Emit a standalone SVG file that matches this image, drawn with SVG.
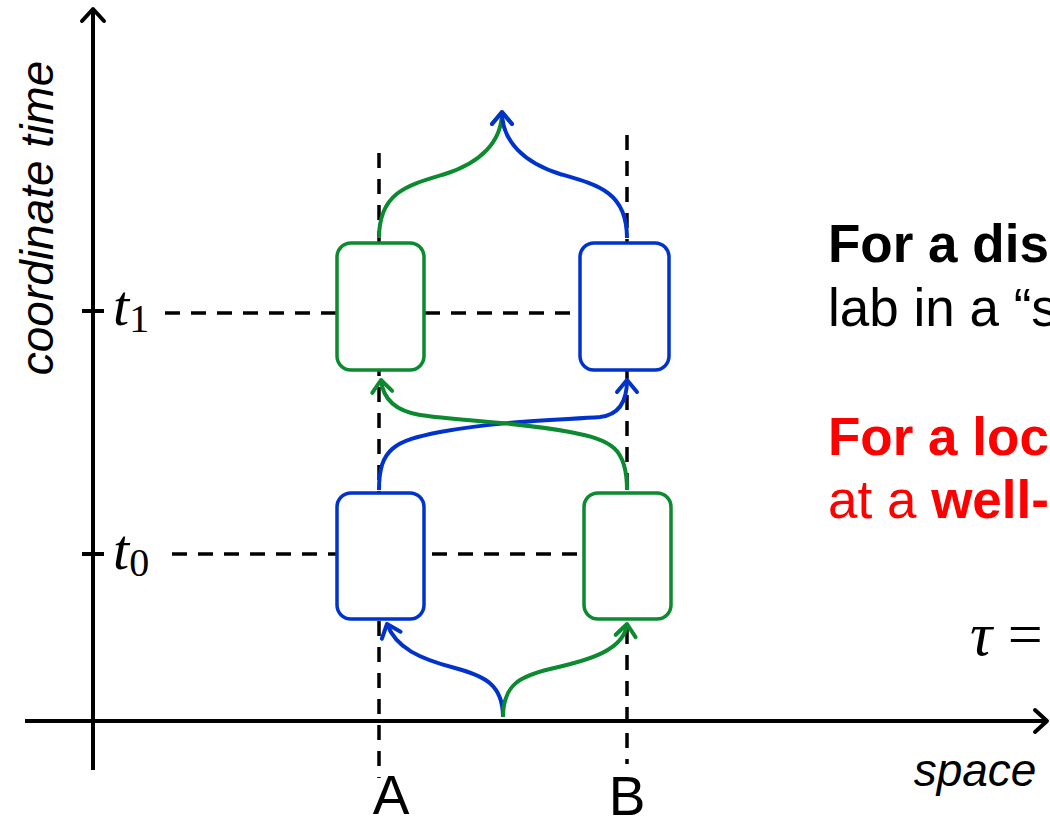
<svg xmlns="http://www.w3.org/2000/svg" width="1050" height="826" viewBox="0 0 1050 826">
<style>
.axis{stroke:#000;stroke-width:4;fill:none}
.dash{stroke:#000;stroke-width:3.5;stroke-dasharray:15 11;fill:none}
.g{stroke:#0B8A2F;stroke-width:4;fill:none}
.b{stroke:#0033CC;stroke-width:4;fill:none}
.gbox{stroke:#0B8A2F;stroke-width:3.5;fill:#fff}
.bbox{stroke:#0033CC;stroke-width:3.5;fill:#fff}
.sans{font-family:"Liberation Sans",Arial,sans-serif}
.math{font-family:"Liberation Serif","Times New Roman",serif;font-style:italic}
</style>
<defs>
<marker id="ak" markerUnits="userSpaceOnUse" markerWidth="30" markerHeight="30" refX="0" refY="0" viewBox="-15 -15 30 30" orient="auto" overflow="visible">
<path d="M-12,-11 L0,0 L-12,11" fill="none" stroke="#000" stroke-width="4" stroke-linecap="round" stroke-linejoin="round"/>
</marker>
<marker id="ag" markerUnits="userSpaceOnUse" markerWidth="30" markerHeight="30" refX="0" refY="0" viewBox="-15 -15 30 30" orient="auto" overflow="visible">
<path d="M-12,-10 L0,0 L-12,10" fill="none" stroke="#0B8A2F" stroke-width="4" stroke-linecap="round" stroke-linejoin="round"/>
</marker>
<marker id="ab" markerUnits="userSpaceOnUse" markerWidth="30" markerHeight="30" refX="0" refY="0" viewBox="-15 -15 30 30" orient="auto" overflow="visible">
<path d="M-12,-10 L0,0 L-12,10" fill="none" stroke="#0033CC" stroke-width="4" stroke-linecap="round" stroke-linejoin="round"/>
</marker>
</defs>
<rect width="1050" height="826" fill="#fff"/>

<g id="axes">
<line class="axis" x1="93" y1="770" x2="93" y2="9" marker-end="url(#ak)"/>
<line class="axis" x1="25" y1="721" x2="1047" y2="721" marker-end="url(#ak)"/>
<line class="axis" x1="82" y1="311" x2="104" y2="311"/>
<line class="axis" x1="82" y1="554" x2="104" y2="554"/>
<text class="sans" x="0" y="0" font-size="46" font-style="italic" text-anchor="middle" transform="translate(53,218) rotate(-90)">coordinate time</text>
<text class="sans" x="975" y="786" font-size="46" font-style="italic" text-anchor="middle">space</text>
</g>

<g id="ticks">
<text class="math" x="113" y="325" font-size="58">t<tspan font-size="40" font-style="normal" dy="7">1</tspan></text>
<text class="math" x="113" y="569" font-size="58">t<tspan font-size="40" font-style="normal" dy="7">0</tspan></text>
<line class="dash" x1="165" y1="313" x2="585" y2="313"/>
<line class="dash" x1="172" y1="554" x2="590" y2="554"/>
</g>

<g id="worldlines">
<line class="dash" x1="379" y1="153" x2="379" y2="778" stroke-dasharray="16 10 16 10 16 10 16 10 16 10 16 10 16 10 16 10 16 10 16 10 16 10 16 10 16 10 16 10 16 10 16 10 16 10 16 10 16 10 16 10 16 10 16 10 16 10 16 10 14 13 4 40"/>
<line class="dash" x1="627" y1="135" x2="627" y2="764"/>
<text class="sans" x="391" y="814" font-size="55" text-anchor="middle">A</text>
<text class="sans" x="627" y="815" font-size="55" text-anchor="middle">B</text>
</g>

<g id="connectors">
<path class="g" d="M379,238 C379,192 408,185 445,174 C480,163 502,142 502,112" marker-end="url(#ag)"/>
<path class="b" d="M627,238 C627,192 598,185 560,174 C525,163 502,142 502,112" marker-end="url(#ab)"/>
<path class="b" d="M379,490 C379,448 395,441 440,432 C500,421 560,420 600,417 C618,415 627,402 627,380" marker-end="url(#ab)"/>
<path class="g" d="M627,490 C627,448 612,440 570,432 C510,421 460,421 420,415 C396,411 383,400 381,380" marker-end="url(#ag)"/>
<path class="b" d="M503,717 C503,685 485,676 455,668 C420,659 396,648 387,624" marker-end="url(#ab)"/>
<path class="g" d="M503,717 C503,685 520,676 550,669 C590,660 624,650 627,624" marker-end="url(#ag)"/>
</g>

<g id="node-A1"><rect class="gbox" x="337" y="243" width="87" height="127" rx="14"/></g>
<g id="node-B1"><rect class="bbox" x="580" y="243" width="89" height="127" rx="14"/></g>
<g id="node-A0"><rect class="bbox" x="337" y="493" width="87" height="126" rx="14"/></g>
<g id="node-B0"><rect class="gbox" x="584" y="493" width="87" height="126" rx="14"/></g>

<g id="notes">
<text class="sans" x="828" y="262" font-size="53" font-weight="bold" fill="#000">For a dis</text>
<text class="sans" x="828" y="326" font-size="53" fill="#000">lab in a “s</text>
<text class="sans" x="828" y="455" font-size="53" font-weight="bold" fill="#FF0000">For a loc</text>
<text class="sans" x="828" y="518" font-size="53" fill="#FF0000">at a <tspan font-weight="bold">well-</tspan></text>
<text class="math" x="970" y="655" font-size="62">τ <tspan font-style="normal">=</tspan></text>
</g>
</svg>
